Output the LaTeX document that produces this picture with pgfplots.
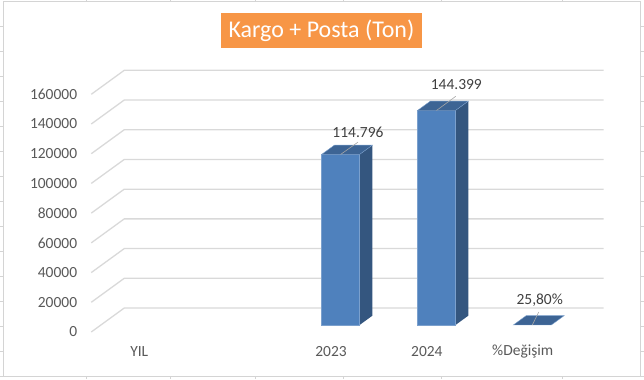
\documentclass[border=0pt]{standalone}
\usepackage{pgfplots}
\pgfplotsset{compat=1.18}
\usepackage{fontspec}
\setmainfont{Carlito}
\definecolor{gridc}{HTML}{D9D9D9}
\definecolor{barfront}{HTML}{4F81BD}
\definecolor{barside}{HTML}{34567F}
\definecolor{bartop}{HTML}{3D6494}
\definecolor{ticktext}{HTML}{595959}
\definecolor{labeltext}{HTML}{404040}
\definecolor{leader}{HTML}{A6A6A6}
\definecolor{titlebg}{HTML}{F79646}
\definecolor{sheet}{HTML}{D4D4D4}
% oblique projection: x = category position, y = value, d = depth (0 front .. 1 back wall)
\pgfplotsset{
  table/proj/.style={x expr=\thisrow{x}+0.34375*\thisrow{d}, y expr=\thisrow{y}+16134*\thisrow{d}, row sep=\\},
  barfrontface/.style={fill=barfront, draw=barfront!75!white, line width=0.4pt},
  barsideface/.style={fill=barside, draw=none},
  bartopface/.style={fill=bartop, draw=barfront!75!white, line width=0.4pt},
}
\begin{document}
\begin{tikzpicture}[x=1pt,y=1pt]
% spreadsheet cell grid peeking around the chart
\foreach \yy in {26,51,...,376}{
  \draw[sheet, line width=0.8pt] (0,379-\yy) -- (3,379-\yy);
  \draw[sheet, line width=0.8pt] (641,379-\yy) -- (644,379-\yy);
}
\foreach \xx in {86,170,255,343,442,563}{
  \draw[sheet, line width=0.8pt] (\xx,378) -- (\xx,379);
  \draw[sheet, line width=0.8pt] (\xx,0) -- (\xx,2);
}
\draw[sheet, line width=0.9pt] (3,2) rectangle (641,378);
\begin{axis}[
  at={(0,0)}, anchor=south west,
  scale only axis, width=644pt, height=379pt,
  xmin=-1.447917, xmax=5.260417, ymin=-31596.6, ymax=223193.3,
  axis line style={draw=none},
  major tick length=0pt,
  scaled y ticks=false, scaled x ticks=false,
  xtick={0,2,3,4}, xticklabels={YIL,2023,2024,\%Değişim},
  ytick={0,20000,40000,60000,80000,100000,120000,140000,160000},
  yticklabels={0,20000,40000,60000,80000,100000,120000,140000,160000},
  yticklabel style={anchor=east, inner sep=0pt, xshift=77pt, text=ticktext, font=\fontsize{15.5}{18}\selectfont},
  xticklabel style={anchor=center, inner sep=0pt, yshift=27pt, text=ticktext, font=\fontsize{15.5}{18}\selectfont},
  clip=false,
]
% gridlines: left wall + back wall
\pgfplotsinvokeforeach{0,20000,40000,60000,80000,100000,120000,140000,160000}{
  \addplot[gridc, line width=1.3pt] table[proj]{x y d\\ -0.5 #1 0\\ -0.5 #1 1\\ 4.5 #1 1\\};
}
% 2023 : 114796
\addplot[barsideface] table[proj]{x y d\\ 2.198 0 0.29\\ 2.198 0 0.68\\ 2.198 114796 0.68\\ 2.198 114796 0.29\\} -- cycle;
\addplot[barfrontface] table[proj]{x y d\\ 1.802 0 0.29\\ 2.198 0 0.29\\ 2.198 114796 0.29\\ 1.802 114796 0.29\\} -- cycle;
\addplot[bartopface] table[proj]{x y d\\ 1.802 114796 0.29\\ 2.198 114796 0.29\\ 2.198 114796 0.68\\ 1.802 114796 0.68\\} -- cycle;
% 2024 : 144399
\addplot[barsideface] table[proj]{x y d\\ 3.198 0 0.29\\ 3.198 0 0.68\\ 3.198 144399 0.68\\ 3.198 144399 0.29\\} -- cycle;
\addplot[barfrontface] table[proj]{x y d\\ 2.802 0 0.29\\ 3.198 0 0.29\\ 3.198 144399 0.29\\ 2.802 144399 0.29\\} -- cycle;
\addplot[bartopface] table[proj]{x y d\\ 2.802 144399 0.29\\ 3.198 144399 0.29\\ 3.198 144399 0.68\\ 2.802 144399 0.68\\} -- cycle;
% %Değişim : 25.80
\addplot[bartopface] table[proj]{x y d\\ 3.802 25.8 0.29\\ 4.198 25.8 0.29\\ 4.198 25.8 0.68\\ 3.802 25.8 0.68\\} -- cycle;
% leader lines
\addplot[leader, line width=0.6pt] table[proj]{x y d\\ 2.0 114796 0.29\\ 2.181 123052 0.29\\};
\addplot[leader, line width=0.6pt] table[proj]{x y d\\ 3.0 144399 0.29\\ 3.202 153977 0.29\\};
\addplot[leader, line width=0.6pt] table[proj]{x y d\\ 4.0 25.8 0.29\\ 4.067 8766 0.29\\};
% data labels
\node[text=labeltext, font=\fontsize{15.5}{18}\selectfont] at (axis cs:2.28125,134454) {114.796};
\node[text=labeltext, font=\fontsize{15.5}{18}\selectfont] at (axis cs:3.307,166723) {144.399};
\node[text=labeltext, font=\fontsize{15.5}{18}\selectfont] at (axis cs:4.177,21513) {25,80\%};
\end{axis}
% title
\node[fill=titlebg, text=white, font=\fontsize{24}{28}\selectfont, minimum width=201pt, minimum height=35pt, inner sep=0pt] at (321.5,349) {Kargo + Posta (Ton)};
\end{tikzpicture}
\end{document}
